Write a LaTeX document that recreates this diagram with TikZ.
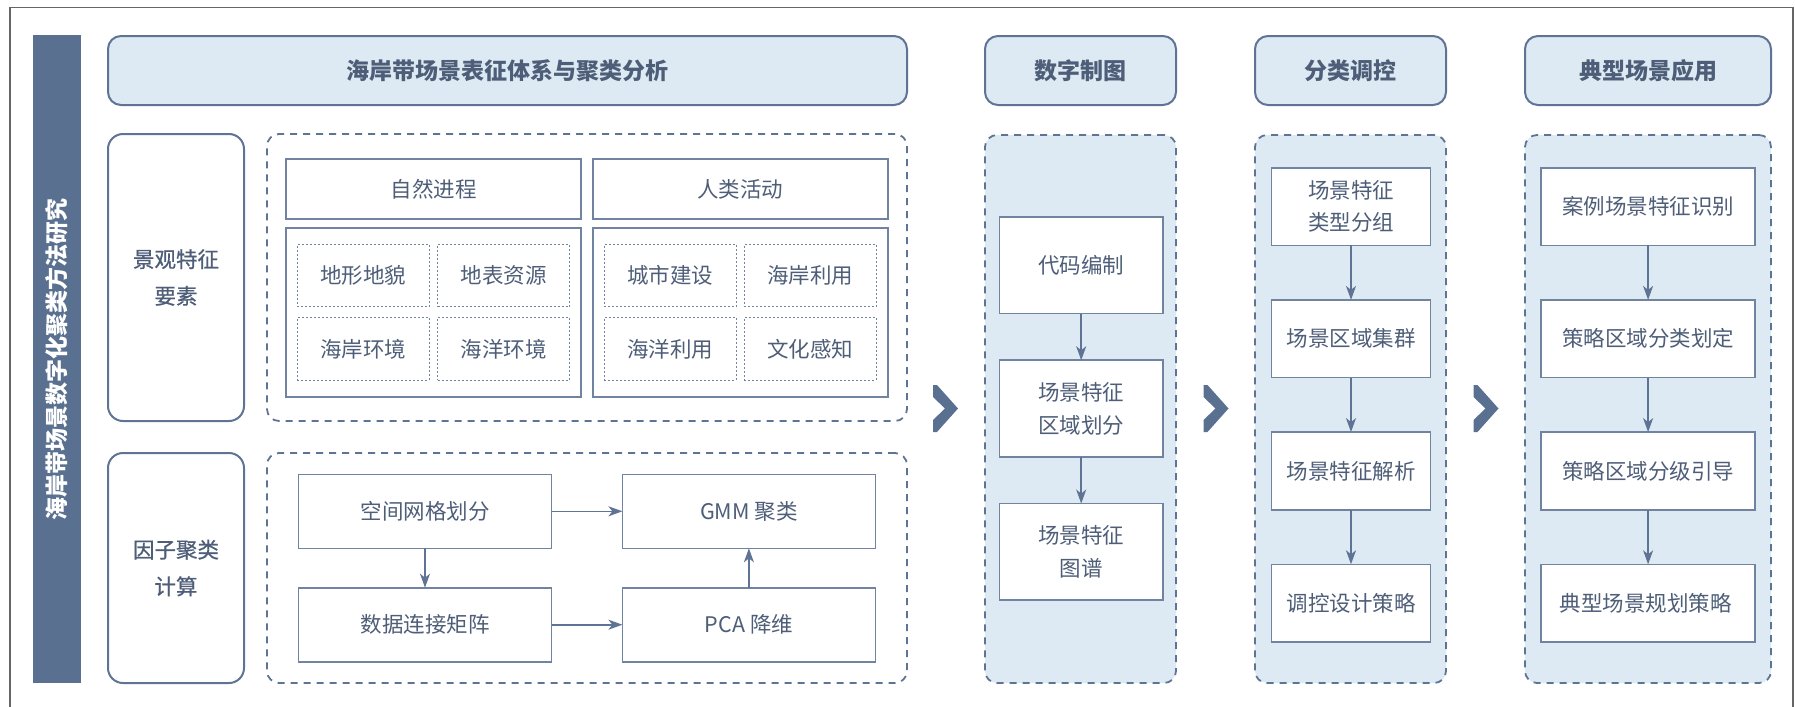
\documentclass[tikz,border=0pt]{standalone}
\usepackage{fontspec}
\setmainfont{Noto Sans CJK SC}
\newfontfamily\midfont{Noto Sans CJK SC}[FakeBold=0.8]
\usetikzlibrary{arrows.meta}
\definecolor{slate}{RGB}{90,112,145}
\definecolor{pale}{RGB}{222,234,243}
\definecolor{ink}{RGB}{78,94,120}
\definecolor{edge}{RGB}{95,115,148}
\definecolor{lineblue}{RGB}{112,132,162}

\begin{document}
\begin{tikzpicture}[
        x=0.5pt, y=-0.5pt,
        base/.style={
            inner sep=0pt,
            outer sep=0pt,
            text=ink,
            align=center,
            font=\fontsize{10.75}{16.25}\selectfont
        },
        titlebox/.style={
            base,
            draw=edge,
            fill=pale,
            line width=1pt,
            rounded corners=6.5pt,
            minimum height=34.5pt,
            font=\fontsize{11.5}{14}\selectfont\bfseries
        },
        sidebox/.style={
            base,
            draw=edge,
            line width=1pt,
            rounded corners=7.5pt,
            minimum width=68pt,
            font=\fontsize{10.75}{18.35}\selectfont\midfont
        },
        group/.style={
            base,
            draw=edge,
            line width=0.9pt,
            dash pattern=on 3.5pt off 3pt,
            rounded corners=6pt
        },
        panel/.style={base, draw=lineblue, line width=0.9pt, minimum width=147.5pt},
        cell/.style={
            base,
            draw=lineblue,
            line width=0.5pt,
            dash pattern=on 1pt off 1pt,
            minimum width=66pt,
            minimum height=31.2pt
        },
        stepbox/.style={base, draw=lineblue, fill=white, line width=0.8pt},
        mapbox/.style={stepbox, minimum width=81.65pt, minimum height=48.35pt},
        ctrlbox/.style={stepbox, minimum width=79.6pt, minimum height=38.8pt},
        flow/.style={draw=edge, line width=0.8pt, -{Stealth[length=7pt, width=5pt, inset=2pt]}},
        frame/.style={draw=black!60, line width=0.6pt}
    ]
        \useasboundingbox (0,0) rectangle (1795,707);
        \draw[frame] (10,707) -- (10,7.5) -- (1793,7.5) -- (1793,707);

        \node[fill=slate, rotate=90, minimum width=324pt, minimum height=24.25pt, inner sep=0pt,
            text=white, font=\fontsize{11.5}{14}\selectfont\bfseries]
            (bar) at (56.75,359) {海岸带场景数字化聚类方法研究};

        \node[titlebox, minimum width=399.5pt] (t1) at (507.5,70.5) {海岸带场景表征体系与聚类分析};
        \node[titlebox, minimum width=95.5pt] (t2) at (1080.5,70.5) {数字制图};
        \node[titlebox, minimum width=95.5pt] (t3) at (1350.5,70.5) {分类调控};
        \node[titlebox, minimum width=123pt] (t4) at (1648,70.5) {典型场景应用};

        \node[sidebox, minimum height=143.5pt] (s1) at (176,277.5) {景观特征\\要素};
        \node[sidebox, minimum height=115pt] (s2) at (176,568) {因子聚类\\计算};

        \node[group, minimum width=320pt, minimum height=143.5pt] (g1) at (587,277.5) {};
        \node[group, minimum width=320pt, minimum height=115pt] (g2) at (587,568) {};
        \node[group, fill=pale, minimum width=95.5pt, minimum height=274pt] (c2) at (1080.5,409) {};
        \node[group, fill=pale, minimum width=95.5pt, minimum height=274pt] (c3) at (1350.5,409) {};
        \node[group, fill=pale, minimum width=123pt, minimum height=274pt] (c4) at (1648,409) {};

        \node[panel, minimum height=30.15pt] (p1) at (433.5,188.9) {自然进程};
        \node[panel, minimum height=30.15pt] (p2) at (740.1,188.9) {人类活动};
        \node[panel, minimum height=84.2pt] (q1) at (433.5,312.5) {};
        \node[panel, minimum height=84.2pt] (q2) at (740.1,312.5) {};

        \foreach \texto/\cx/\cy [count=\n] in {
            地形地貌/363.4/275.5,
            地表资源/503.5/275.5,
            海岸环境/363.4/348.9,
            海洋环境/503.5/348.9,
            城市建设/670.4/275.5,
            海岸利用/810.4/275.5,
            海洋利用/670.4/348.9,
            文化感知/810.4/348.9
        } {
            \node[cell] (e\n) at (\cx,\cy) {\texto};
        }

        \node[stepbox, minimum width=126.5pt, minimum height=37pt] (f1) at (425,511.3) {空间网格划分};
        \node[stepbox, minimum width=126.5pt, minimum height=37pt] (f2) at (425,624.7) {数据连接矩阵};
        \node[stepbox, minimum width=126.5pt, minimum height=37pt] (f3) at (748.9,511.3) {GMM 聚类};
        \node[stepbox, minimum width=126.5pt, minimum height=37pt] (f4) at (748.9,624.7) {PCA 降维};

        \node[mapbox] (m1) at (1081.2,265.3) {代码编制};
        \node[mapbox] (m2) at (1081.2,408.6) {场景特征\\区域划分};
        \node[mapbox] (m3) at (1081.2,551.9) {场景特征\\图谱};

        \node[ctrlbox] (k1) at (1351,206.5) {场景特征\\类型分组};
        \node[ctrlbox] (k2) at (1351,338.7) {场景区域集群};
        \node[ctrlbox] (k3) at (1351,470.9) {场景特征解析};
        \node[ctrlbox] (k4) at (1351,603.1) {调控设计策略};

        \foreach \texto [count=\n] in {
            案例场景特征识别,
            策略区域分类划定,
            策略区域分级引导,
            典型场景规划策略
        } {
            \node[stepbox, minimum width=106.9pt, minimum height=38.8pt]
                (y\n) at (1648.1,{206.5+132.2*(\n-1)}) {\texto};
        }

        \foreach \a/\b in {f1/f2, f1/f3, f2/f4, f4/f3, m1/m2, m2/m3,
            k1/k2, k2/k3, k3/k4, y1/y2, y2/y3, y3/y4} {
            \draw[flow] (\a) -- (\b);
        }

        \foreach \cx in {945.5, 1216, 1486} {
            \fill[slate] (\cx-12.5,385) -- (\cx-8.5,385) -- (\cx+12.5,408.5) -- (\cx-8.5,432)
                -- (\cx-12.5,432) -- (\cx-12.5,420) -- (\cx-0.5,408.5) -- (\cx-12.5,397) -- cycle;
        }
    \end{tikzpicture}
\end{document}
